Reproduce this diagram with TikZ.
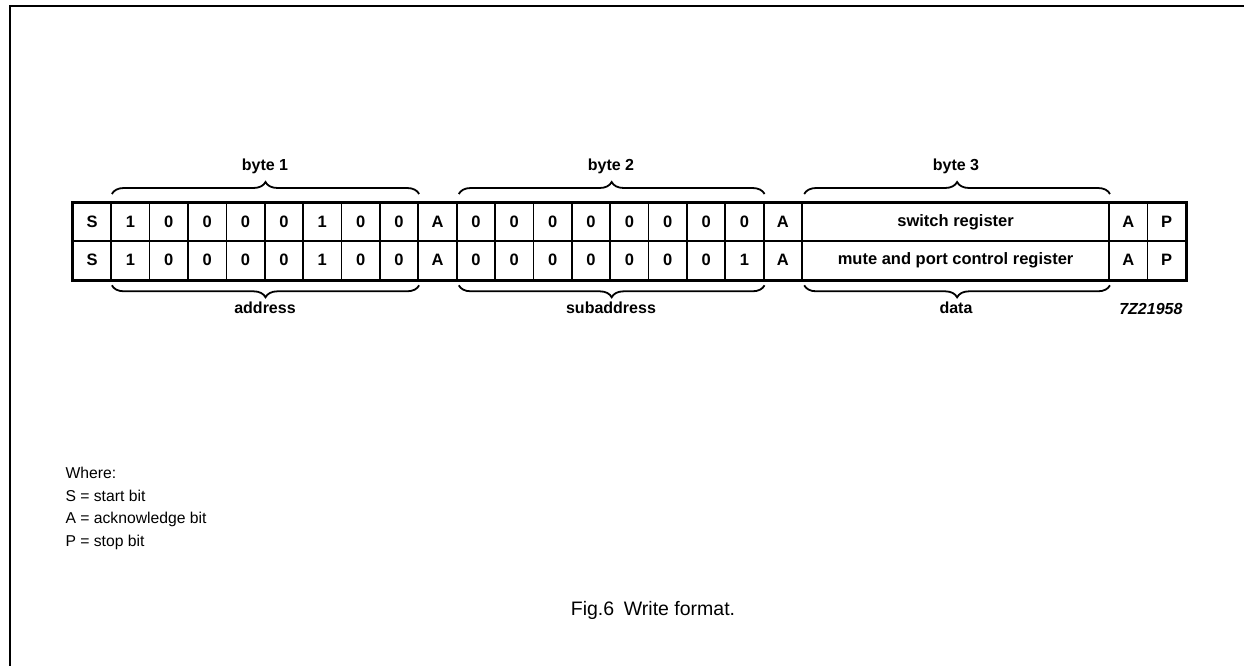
\documentclass[tikz,border=0pt]{standalone}
\usepackage{fontspec}
\setmainfont{Liberation Sans}
\usetikzlibrary{decorations.pathreplacing}
\begin{document}
\begin{tikzpicture}[x=1pt,y=-1pt,
  cell/.style={draw, line width=1.7pt, minimum width=38.38pt, minimum height=38.3pt,
    inner sep=0pt, anchor=north west, font=\fontsize{16.5}{19}\bfseries},
  wide/.style={cell, minimum width=307.04pt},
  outer/.style={line width=2.5pt},
  bracestyle/.style={line width=1.8pt, decorate, decoration={brace, amplitude=12pt}},
  lbl/.style={anchor=base, font=\fontsize{16}{19}\bfseries},
  legend/.style={anchor=base west, font=\fontsize{15.7}{19}\selectfont},
  frame/.style={line width=1.6pt}]
\useasboundingbox (0,0) rectangle (1244,666);
% partial frame
\coordinate (ftr) at (1244,6);
\coordinate (ftl) at (10,6);
\coordinate (fbl) at (10,666);
\draw[frame] (ftr) -- (ftl) -- (fbl);
% row 1
\foreach \t [count=\i from 0] in {S,1,0,0,0,0,1,0,0,A,0,0,0,0,0,0,0,0,A}
  \node[cell] (ra\i) at (72+\i*38.38,202) {\t};
\node[wide] (rad) at (72+19*38.38,202) {switch register};
\node[cell] (raa) at (72+27*38.38,202) {A};
\node[cell] (rap) at (72+28*38.38,202) {P};
% row 2
\foreach \t [count=\i from 0] in {S,1,0,0,0,0,1,0,0,A,0,0,0,0,0,0,0,1,A}
  \node[cell] (rb\i) at (72+\i*38.38,240.3) {\t};
\node[wide] (rbd) at (72+19*38.38,240.3) {mute and port control register};
\node[cell] (rba) at (72+27*38.38,240.3) {A};
\node[cell] (rbp) at (72+28*38.38,240.3) {P};
% outer box
\draw[outer] (ra0.north west) rectangle (rbp.south east);
% top braces
\draw[bracestyle] ([xshift=1.5pt,yshift=8pt]ra1.north west) -- ([yshift=8pt]ra8.north east);
\draw[bracestyle] ([xshift=3pt,yshift=8pt]ra10.north west) -- ([yshift=8pt]ra17.north east);
\draw[bracestyle] ([xshift=3pt,yshift=8pt]rad.north west) -- ([yshift=8pt]rad.north east);
\node[lbl] (b1) at (265,170) {byte 1};
\node[lbl] (b2) at (611,170) {byte 2};
\node[lbl] (b3) at (956,170) {byte 3};
% bottom braces
\draw[bracestyle] ([yshift=-5pt]rb8.south east) -- ([xshift=1.5pt,yshift=-5pt]rb1.south west);
\draw[bracestyle] ([yshift=-5pt]rb17.south east) -- ([xshift=3pt,yshift=-5pt]rb10.south west);
\draw[bracestyle] ([yshift=-5pt]rbd.south east) -- ([xshift=3pt,yshift=-5pt]rbd.south west);
\node[lbl] (l1) at (265,313) {address};
\node[lbl] (l2) at (611,313) {subaddress};
\node[lbl] (l3) at (956,313) {data};
\node[anchor=base east, font=\fontsize{16}{19}\bfseries\itshape] (code) at (1186,314) {7Z21958};
% legend
\node[legend] (w) at (62,478) {Where:};
\node[legend] (ls) at (62,501) {S = start bit};
\node[legend] (la) at (62,523) {A = acknowledge bit};
\node[legend] (lp) at (62,546) {P = stop bit};
% caption
\node[anchor=base, font=\fontsize{19.5}{23}\selectfont] (cap) at (653,615) {Fig.6\hspace{0.5em}Write format.};
\end{tikzpicture}
\end{document}
